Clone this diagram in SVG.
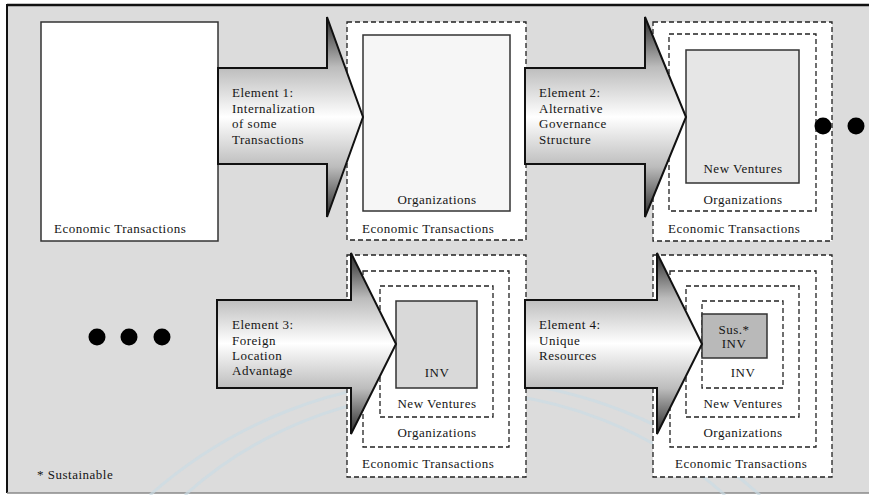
<svg xmlns="http://www.w3.org/2000/svg" width="869" height="495" viewBox="0 0 869 495">
<defs>
<linearGradient id="ag" x1="0" y1="0" x2="0" y2="1">
<stop offset="0" stop-color="#2a2a2a"/>
<stop offset="0.25" stop-color="#bcbcbc"/>
<stop offset="0.5" stop-color="#ffffff"/>
<stop offset="0.75" stop-color="#bcbcbc"/>
<stop offset="1" stop-color="#2a2a2a"/>
</linearGradient>
<style>
.t { font-family: "Liberation Serif", "Times New Roman", serif; font-size: 13px; fill: #151515; letter-spacing: 0.5px; }
.c { text-anchor: middle; }
.dash { fill: none; stroke: #222; stroke-width: 1.3; stroke-dasharray: 5 3; }
.solid { stroke: #333; stroke-width: 1.5; }
.arrow { fill: url(#ag); stroke: #111; stroke-width: 2; stroke-linejoin: miter; }
.wm { fill: none; stroke: #cbdbe4; stroke-width: 3; opacity: 0.7; }
</style>
</defs>
<rect x="0" y="0" width="869" height="495" fill="#ffffff"/>
<rect x="7" y="5" width="862" height="488" fill="#dcdcdc"/>
<line x1="7" y1="5" x2="869" y2="5" stroke="#111" stroke-width="2.5"/>
<line x1="7" y1="4" x2="7" y2="493" stroke="#111" stroke-width="2"/>
<line x1="7" y1="493" x2="869" y2="493" stroke="#8a8a8a" stroke-width="1.5"/>
<g id="watermark">
<path class="wm" d="M150,495 A460,460 0 0 1 760,495"/>
<path class="wm" d="M185,495 A405,405 0 0 1 725,495"/>
</g>
<g id="box-economic">
<rect x="41" y="22" width="177" height="219" fill="#ffffff" class="solid"/>
<text class="t" x="54" y="233">Economic Transactions</text>
</g>
<g id="box-organizations">
<rect x="347" y="22" width="179" height="218" fill="#ffffff"/>
<rect x="347" y="22" width="179" height="218" class="dash"/>
<rect x="363" y="35" width="147" height="176" fill="#f6f6f6" class="solid"/>
<text class="t c" x="437" y="204">Organizations</text>
<text class="t" x="362" y="233">Economic Transactions</text>
</g>
<g id="box-new-ventures">
<rect x="653" y="22" width="179" height="219" fill="#ffffff"/>
<rect x="653" y="22" width="179" height="219" class="dash"/>
<rect x="669" y="34" width="147" height="177" class="dash"/>
<rect x="686" y="50" width="113" height="133" fill="#e6e6e6" class="solid"/>
<text class="t c" x="743" y="173">New Ventures</text>
<text class="t c" x="743" y="204">Organizations</text>
<text class="t" x="668" y="233">Economic Transactions</text>
</g>
<g id="box-inv">
<rect x="347" y="255" width="179" height="222" fill="#ffffff"/>
<rect x="347" y="255" width="179" height="222" class="dash"/>
<rect x="363" y="271" width="146" height="176" class="dash"/>
<rect x="380" y="286" width="113" height="131" class="dash"/>
<rect x="396" y="301" width="81" height="87" fill="#d9d9d9" class="solid"/>
<text class="t c" x="437" y="377">INV</text>
<text class="t c" x="437" y="408">New Ventures</text>
<text class="t c" x="437" y="437">Organizations</text>
<text class="t" x="362" y="468">Economic Transactions</text>
</g>
<g id="box-sus-inv">
<rect x="653" y="255" width="179" height="222" fill="#ffffff"/>
<rect x="653" y="255" width="179" height="222" class="dash"/>
<rect x="670" y="271" width="146" height="176" class="dash"/>
<rect x="686" y="286" width="113" height="131" class="dash"/>
<rect x="702" y="301" width="81" height="87" class="dash"/>
<rect x="702" y="314" width="65" height="44" fill="#b9b9b9" class="solid"/>
<text class="t c" x="734" y="334">Sus.*</text>
<text class="t c" x="734" y="348">INV</text>
<text class="t c" x="743" y="377">INV</text>
<text class="t c" x="743" y="408">New Ventures</text>
<text class="t c" x="743" y="437">Organizations</text>
<text class="t" x="675" y="468">Economic Transactions</text>
</g>
<g id="connectors">
<g id="arrow-1">
<path class="arrow" d="M218,68 H327 V17 L363,117 L327,217 V164 H218 Z"/>
<text class="t" x="232" y="97">Element 1:</text>
<text class="t" x="232" y="112.5">Internalization</text>
<text class="t" x="232" y="128">of some</text>
<text class="t" x="232" y="143.5">Transactions</text>
</g>
<g id="arrow-2">
<path class="arrow" d="M525,68 H645 V17 L686,117 L645,217 V164 H525 Z"/>
<text class="t" x="539" y="97">Element 2:</text>
<text class="t" x="539" y="112.5">Alternative</text>
<text class="t" x="539" y="128">Governance</text>
<text class="t" x="539" y="143.5">Structure</text>
</g>
<g id="arrow-3">
<path class="arrow" d="M217,300 H351 V253 L396,344 L351,434 V388 H217 Z"/>
<text class="t" x="232" y="329">Element 3:</text>
<text class="t" x="232" y="344.5">Foreign</text>
<text class="t" x="232" y="360">Location</text>
<text class="t" x="232" y="375">Advantage</text>
</g>
<g id="arrow-4">
<path class="arrow" d="M525,300 H657 V253 L702,344 L657,434 V388 H525 Z"/>
<text class="t" x="539" y="329">Element 4:</text>
<text class="t" x="539" y="344.5">Unique</text>
<text class="t" x="539" y="360">Resources</text>
</g>
</g>
<g id="dots-top" fill="#000">
<circle cx="823" cy="126" r="8.5"/>
<circle cx="856" cy="126" r="8.5"/>
</g>
<g id="dots-bottom" fill="#000">
<circle cx="97" cy="337" r="8.5"/>
<circle cx="129" cy="337" r="8.5"/>
<circle cx="162" cy="337" r="8.5"/>
</g>
<g id="note">
<text class="t" x="37" y="479">* Sustainable</text>
</g>
</svg>
